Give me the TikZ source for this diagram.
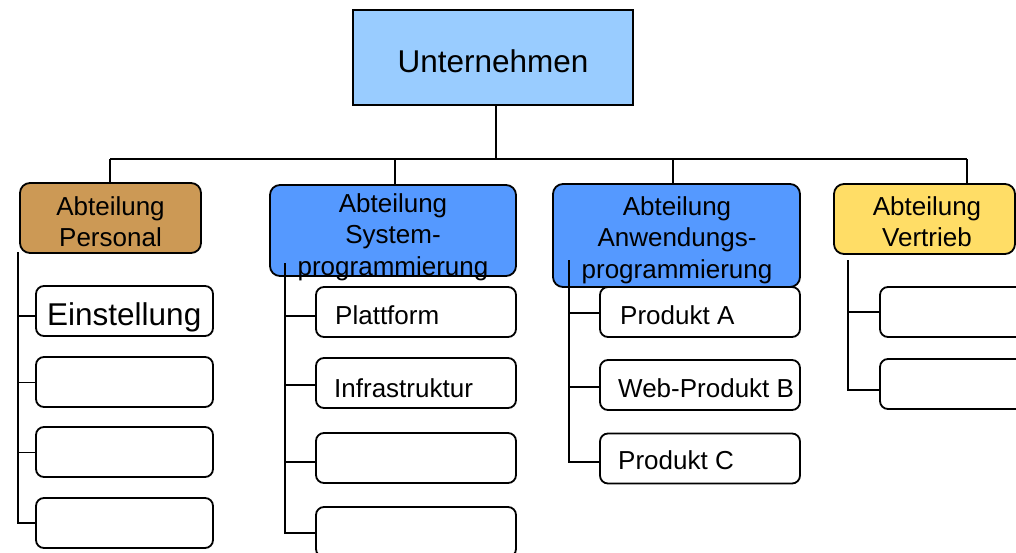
\documentclass[tikz,border=0pt]{standalone}
\usepackage{fontspec}
\setmainfont{Liberation Sans}
\definecolor{topblue}{HTML}{99CCFF}
\definecolor{deptbrown}{HTML}{CC9955}
\definecolor{deptblue}{HTML}{5599FF}
\definecolor{deptyellow}{HTML}{FFDD66}
\tikzset{
  leaf/.style={draw=black, line width=1.8pt, rounded corners=8pt, fill=white,
    inner sep=0pt, outer sep=0pt, minimum width=#1, minimum height=50},
  dept/.style={draw=black, line width=1.8pt, rounded corners=10pt,
    inner sep=0pt, outer sep=0pt},
  wire/.style={line width=1.4pt},
  thinwire/.style={line width=1pt},
  thickwire/.style={line width=2.2pt},
  lbl/.style={inner sep=0pt, font=\fontsize{26}{31.5}\selectfont, align=center},
  biglbl/.style={inner sep=0pt, font=\fontsize{31.5}{36}\selectfont},
}
\begin{document}
\begin{tikzpicture}[x=1pt,y=-1pt]
\useasboundingbox (0,0) rectangle (1016,552);
\fill[white] (0,0) rectangle (1016,552);
\clip (0,0) rectangle (1016,552);

% root
\node[draw=black, line width=2.4pt, fill=topblue, inner sep=0pt, outer sep=0pt,
  minimum width=280, minimum height=95] (top) at (493,57.5) {};
\node[biglbl, anchor=base] (topt) at (493,72) {Unternehmen};

% bus to the departments
\coordinate (bus) at (496,159);
\coordinate (dper) at (110,159);
\coordinate (dsys) at (395,159);
\coordinate (danw) at (673,159);
\coordinate (dver) at (967,159);
\draw[wire] (top.south -| bus) -- (bus);
\draw[wire] (dper) -- (dver);

% departments
\node[dept, fill=deptbrown, minimum width=181, minimum height=70] (per) at (110.5,218) {};
\node[dept, fill=deptblue, minimum width=246, minimum height=91] (sys) at (393,230.5) {};
\node[dept, fill=deptblue, minimum width=247, minimum height=103] (anw) at (676.5,235.5) {};
\node[dept, fill=deptyellow, minimum width=181, minimum height=70] (ver) at (924.5,219) {};

\draw[wire] (dper) -- (dper |- per.north);
\draw[wire] (dsys) -- (dsys |- sys.north);
\draw[wire] (danw) -- (danw |- anw.north);
\draw[wire] (dver) -- (dver |- ver.north);

\node[lbl, anchor=north] (pert) at (110.5,196) {Abteilung\\Personal};
\node[lbl, anchor=north] (syst) at (393,193) {Abteilung\\System-\\programmierung};
\node[lbl, anchor=north] (anwt) at (677,196) {Abteilung\\Anwendungs-\\programmierung};
\node[lbl, anchor=north] (vert) at (927,196) {Abteilung\\Vertrieb};

% Personal
\node[leaf=177] (p1) at (124.5,311) {};
\node[leaf=177] (p2) at (124.5,382) {};
\node[leaf=177] (p3) at (124.5,452) {};
\node[leaf=177] (p4) at (124.5,523) {};
\node[biglbl, anchor=base west] (p1t) at (47,325) {Einstellung};
\coordinate (pv) at (18,252);
\draw[thickwire] (pv) -- (pv |- p4.west) -- (p4.west);
\draw[thickwire] (pv |- 0,316) -- (p1.west |- 0,316);
\draw[thinwire] (pv |- p2.west) -- (p2.west);
\draw[thinwire] (pv |- p3.west) -- (p3.west);

% Systemprogrammierung
\node[leaf=200] (s1) at (416,312) {};
\node[leaf=200] (s2) at (416,383) {};
\node[leaf=200] (s3) at (416,458) {};
\node[leaf=200] (s4) at (416,532) {};
\node[lbl, anchor=base west] (s1t) at (335,324) {Plattform};
\node[lbl, anchor=base west] (s2t) at (334,397) {Infrastruktur};
\coordinate (sv) at (285,263);
\draw[wire] (sv) -- (sv |- 0,533) -- (s4.west |- 0,533);
\draw[wire] (sv |- 0,316) -- (s1.west |- 0,316);
\draw[wire] (sv |- 0,385) -- (s2.west |- 0,385);
\draw[wire] (sv |- 0,462) -- (s3.west |- 0,462);

% Anwendungsprogrammierung
\node[leaf=200] (a1) at (700,312) {};
\node[leaf=200] (a2) at (700,385) {};
\node[leaf=200] (a3) at (700,458.5) {};
\node[lbl, anchor=base west] (a1t) at (620,324) {Produkt A};
\node[lbl, anchor=base west] (a2t) at (618,397) {Web-Produkt B};
\node[lbl, anchor=base west] (a3t) at (618,469) {Produkt C};
\coordinate (av) at (569,260);
\draw[wire] (av) -- (av |- 0,462) -- (a3.west |- 0,462);
\draw[wire] (av |- 0,313) -- (a1.west |- 0,313);
\draw[wire] (av |- 0,387) -- (a2.west |- 0,387);

% Vertrieb
\node[leaf=150] (v1) at (955,312) {};
\node[leaf=150] (v2) at (955,384) {};
\coordinate (vv) at (848,260);
\draw[wire] (vv) -- (vv |- 0,390) -- (v2.west |- 0,390);
\draw[wire] (vv |- v1.west) -- (v1.west);
\end{tikzpicture}
\end{document}
